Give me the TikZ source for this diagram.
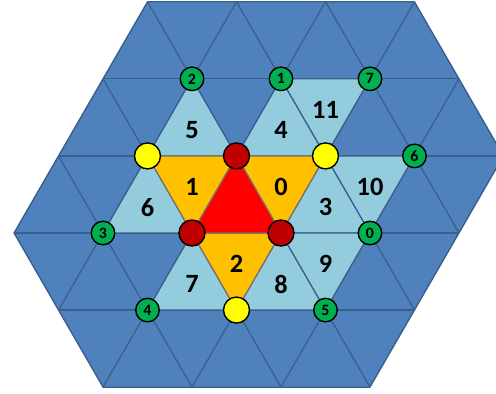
\documentclass[tikz,border=0pt]{standalone}
\usepackage{fontspec}
\setmainfont{Carlito}
\usetikzlibrary{positioning}

\definecolor{tileblue}{HTML}{4F81BD}
\definecolor{lineblue}{HTML}{3B5E8C}
\definecolor{paleblue}{HTML}{93CDDD}
\definecolor{ringorange}{HTML}{FFC000}
\definecolor{corered}{HTML}{FF0000}
\definecolor{coregray}{HTML}{7A6E6E}
\definecolor{darkred}{HTML}{C00000}
\definecolor{siteyellow}{HTML}{FFFF00}
\definecolor{sitegreen}{HTML}{00B050}

\begin{document}
\begin{tikzpicture}[
    x={(1.78cm,0cm)}, y={(0.89cm,1.5415cm)},
    grid/.style={draw=lineblue, line width=0.7pt},
    tile/.style={draw=lineblue, line width=0.7pt, fill=paleblue},
    ring/.style={draw=coregray, line width=0.7pt, fill=ringorange},
    num/.style={font=\fontsize{15}{17}\selectfont\bfseries},
    site/.style={circle, draw=black, line width=0.8pt,
                 minimum size=5.2mm, inner sep=0pt},
    red site/.style={site, fill=darkred},
    yellow site/.style={site, fill=siteyellow},
    green site/.style={site, fill=sitegreen, minimum size=4.7mm,
                       font=\fontsize{9}{10}\selectfont\bfseries}
]
  \useasboundingbox (-3.84cm,-3.22cm) rectangle (6.08cm,4.66cm);
  \clip (-3.84cm,-3.22cm) rectangle (6.08cm,4.66cm);

  % Lattice points
  \coordinate (p00) at (0,0);   \coordinate (p10) at (1,0);
  \coordinate (p01) at (0,1);   \coordinate (pm11) at (-1,1);
  \coordinate (p11) at (1,1);   \coordinate (p1m1) at (1,-1);
  \coordinate (p20) at (2,0);   \coordinate (p02) at (0,2);
  \coordinate (pm12) at (-1,2); \coordinate (pm10) at (-1,0);
  \coordinate (p0m1) at (0,-1); \coordinate (p2m1) at (2,-1);
  \coordinate (p21) at (2,1);   \coordinate (p12) at (1,2);

  % Blue hexagon with triangular lattice
  \path[fill=tileblue] (-2,3) -- (1,3) -- (3,1) -- (3,-2) -- (0,-2) -- (-2,0) -- cycle;
  \begin{scope}
    \clip (-2,3) -- (1,3) -- (3,1) -- (3,-2) -- (0,-2) -- (-2,0) -- cycle;
    \foreach \k in {-3,...,4}
      \draw[grid] (\k,-3) -- (\k,4);
    \foreach \k in {-3,...,5}
      \draw[grid] (\k+3,-3) -- (\k-4,4);
    \foreach \k in {-2,...,3}
      \draw[grid] (-6,\k) -- (6,\k);
  \end{scope}
  \draw[grid] (-2,3) -- (1,3) -- (3,1) -- (3,-2) -- (0,-2) -- (-2,0) -- cycle;

  % Outer light blue triangles
  \draw[tile] (pm12) -- (pm11) -- (p01) -- cycle;
  \draw[tile] (p02) -- (p01) -- (p11) -- cycle;
  \draw[tile] (p02) -- (p11) -- (p12) -- cycle;
  \draw[tile] (pm11) -- (pm10) -- (p00) -- cycle;
  \draw[tile] (p11) -- (p10) -- (p20) -- cycle;
  \draw[tile] (p11) -- (p20) -- (p21) -- cycle;
  \draw[tile] (p00) -- (p0m1) -- (p1m1) -- cycle;
  \draw[tile] (p10) -- (p1m1) -- (p2m1) -- cycle;
  \draw[tile] (p10) -- (p2m1) -- (p20) -- cycle;

  % Orange ring and red core
  \draw[ring] (p00) -- (pm11) -- (p01) -- cycle;
  \draw[ring] (p01) -- (p11) -- (p10) -- cycle;
  \draw[ring] (p00) -- (p10) -- (p1m1) -- cycle;
  \draw[draw=coregray, line width=0.7pt, fill=corered] (p00) -- (p10) -- (p01) -- cycle;

  % Triangle numbers
  \node[num] (t0)  at (2/3,2/3)   [yshift=-1mm] {0};
  \node[num] (t1)  at (-1/3,2/3)  [yshift=-1mm] {1};
  \node[num] (t2)  at (2/3,-1/3)  [yshift=-1mm] {2};
  \node[num] (t3)  at (4/3,1/3)   {3};
  \node[num] (t4)  at (1/3,4/3)   {4};
  \node[num] (t5)  at (-2/3,4/3)  {5};
  \node[num] (t6)  at (-2/3,1/3)  {6};
  \node[num] (t7)  at (1/3,-2/3)  {7};
  \node[num] (t8)  at (4/3,-2/3)  {8};
  \node[num] (t9)  at (5/3,-1/3)  [yshift=-1mm] {9};
  \node[num] (t10) at (5/3,2/3)   [yshift=-1mm] {10};
  \node[num] (t11) at (2/3,5/3)   [yshift=-1mm] {11};

  % Sites
  \node[red site] (r0) at (p00) {};
  \node[red site] (r1) at (p10) {};
  \node[red site] (r2) at (p01) {};
  \node[yellow site] (y0) at (pm11) {};
  \node[yellow site] (y1) at (p11) {};
  \node[yellow site] (y2) at (p1m1) {};
  \node[green site] (g0) at (p20)  {0};
  \node[green site] (g1) at (p02)  {1};
  \node[green site] (g2) at (pm12) {2};
  \node[green site] (g3) at (pm10) {3};
  \node[green site] (g4) at (p0m1) {4};
  \node[green site] (g5) at (p2m1) {5};
  \node[green site] (g6) at (p21)  {6};
  \node[green site] (g7) at (p12)  {7};
\end{tikzpicture}
\end{document}
